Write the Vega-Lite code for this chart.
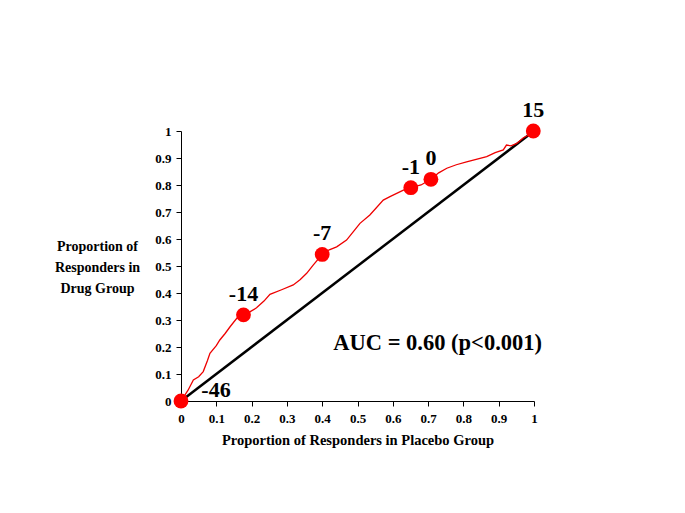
{
  "$schema": "https://vega.github.io/schema/vega-lite/v6.json",
  "width": 353,
  "height": 270,
  "autosize": {"type": "none"},
  "padding": {"left": 181, "top": 131, "right": 151, "bottom": 112},
  "background": "white",
  "config": {
    "view": {"stroke": null},
    "font": "Liberation Serif"
  },
  "datasets": {
    "curve": [
      {"x": 0, "y": 0}, {"x": 0.02, "y": 0.04}, {"x": 0.035, "y": 0.078}, {"x": 0.05, "y": 0.09},
      {"x": 0.063, "y": 0.109}, {"x": 0.075, "y": 0.15}, {"x": 0.082, "y": 0.177}, {"x": 0.1, "y": 0.205},
      {"x": 0.11, "y": 0.226}, {"x": 0.125, "y": 0.25}, {"x": 0.139, "y": 0.275}, {"x": 0.158, "y": 0.306},
      {"x": 0.177, "y": 0.319}, {"x": 0.195, "y": 0.33}, {"x": 0.214, "y": 0.345}, {"x": 0.235, "y": 0.37},
      {"x": 0.252, "y": 0.395}, {"x": 0.285, "y": 0.412}, {"x": 0.318, "y": 0.43}, {"x": 0.338, "y": 0.45},
      {"x": 0.356, "y": 0.473}, {"x": 0.375, "y": 0.504}, {"x": 0.4, "y": 0.543}, {"x": 0.42, "y": 0.56},
      {"x": 0.441, "y": 0.571}, {"x": 0.469, "y": 0.596}, {"x": 0.49, "y": 0.63}, {"x": 0.507, "y": 0.658},
      {"x": 0.535, "y": 0.689}, {"x": 0.573, "y": 0.744}, {"x": 0.592, "y": 0.757}, {"x": 0.63, "y": 0.781},
      {"x": 0.651, "y": 0.79}, {"x": 0.68, "y": 0.8}, {"x": 0.708, "y": 0.821}, {"x": 0.73, "y": 0.845},
      {"x": 0.753, "y": 0.862}, {"x": 0.78, "y": 0.875}, {"x": 0.809, "y": 0.886}, {"x": 0.866, "y": 0.905},
      {"x": 0.89, "y": 0.92}, {"x": 0.913, "y": 0.93}, {"x": 0.922, "y": 0.948}, {"x": 0.935, "y": 0.945},
      {"x": 0.951, "y": 0.954}, {"x": 0.97, "y": 0.975}, {"x": 0.985, "y": 0.985}, {"x": 1, "y": 1}
    ],
    "diag": [{"x": 0, "y": 0}, {"x": 1, "y": 1}],
    "pts": [
      {"x": 0, "y": 0, "label": "-46"},
      {"x": 0.177, "y": 0.319, "label": "-14"},
      {"x": 0.4, "y": 0.543, "label": "-7"},
      {"x": 0.651, "y": 0.79, "label": "-1"},
      {"x": 0.708, "y": 0.821, "label": "0"},
      {"x": 0.998, "y": 1.0, "label": "15"}
    ],
    "note": [{"x": 0.727, "y": 0.215, "text": "AUC = 0.60 (p<0.001)"}]
  },
  "encoding": {
    "x": {
      "field": "x", "type": "quantitative",
      "scale": {"domain": [0, 1], "nice": false},
      "axis": {
        "values": [0, 0.1, 0.2, 0.3, 0.4, 0.5, 0.6, 0.7, 0.8, 0.9, 1],
        "format": "~g",
        "grid": false,
        "domainColor": "black",
        "tickColor": "black",
        "labelColor": "black",
        "titleColor": "black",
        "labelFont": "Liberation Serif",
        "titleFont": "Liberation Serif",
        "labelFontWeight": "bold",
        "titleFontWeight": "bold",
        "labelFontSize": 13,
        "tickSize": 5,
        "labelOverlap": false,
        "labelSeparation": 0,
        "labelPadding": 6,
        "labelFlush": false,
        "title": "Proportion of Responders in Placebo Group",
        "titleY": 39,
        "titleFontSize": 14.5,
        "titleBaseline": "middle"
      }
    },
    "y": {
      "field": "y", "type": "quantitative",
      "scale": {"domain": [0, 1], "nice": false},
      "axis": {
        "values": [0, 0.1, 0.2, 0.3, 0.4, 0.5, 0.6, 0.7, 0.8, 0.9, 1],
        "format": "~g",
        "grid": false,
        "domainColor": "black",
        "tickColor": "black",
        "labelColor": "black",
        "titleColor": "black",
        "labelFont": "Liberation Serif",
        "titleFont": "Liberation Serif",
        "labelFontWeight": "bold",
        "titleFontWeight": "bold",
        "labelFontSize": 13,
        "titleFontSize": 14,
        "tickSize": 5,
        "labelOverlap": false,
        "labelSeparation": 0,
        "labelPadding": 5,
        "labelFlush": false,
        "title": ["Proportion of", "Responders in", "Drug Group"],
        "titleAngle": 0,
        "titleAlign": "center",
        "titleBaseline": "top",
        "titleX": -84,
        "titleY": 108,
        "titleLineHeight": 21
      }
    }
  },
  "layer": [
    {
      "data": {"name": "diag"},
      "mark": {"type": "line", "color": "black", "strokeWidth": 2.5}
    },
    {
      "data": {"name": "curve"},
      "mark": {"type": "line", "color": "#ee0000", "strokeWidth": 1.3}
    },
    {
      "data": {"name": "pts"},
      "mark": {"type": "point", "filled": true, "color": "#ff0000", "size": 220, "opacity": 1}
    },
    {
      "data": {"name": "pts"},
      "transform": [{"filter": "datum.label != '-46'"}],
      "mark": {"type": "text", "fontSize": 22, "fontWeight": "bold", "font": "Liberation Serif", "color": "black", "dy": -21, "baseline": "middle"},
      "encoding": {"text": {"field": "label"}}
    },
    {
      "data": {"name": "pts"},
      "transform": [{"filter": "datum.label == '-46'"}],
      "mark": {"type": "text", "fontSize": 22, "fontWeight": "bold", "font": "Liberation Serif", "color": "black", "dx": 35, "dy": -11, "baseline": "middle"},
      "encoding": {"text": {"field": "label"}}
    },
    {
      "data": {"name": "note"},
      "mark": {"type": "text", "fontSize": 22.5, "fontWeight": "bold", "font": "Liberation Serif", "color": "black", "baseline": "middle"},
      "encoding": {"text": {"field": "text"}}
    }
  ]
}
